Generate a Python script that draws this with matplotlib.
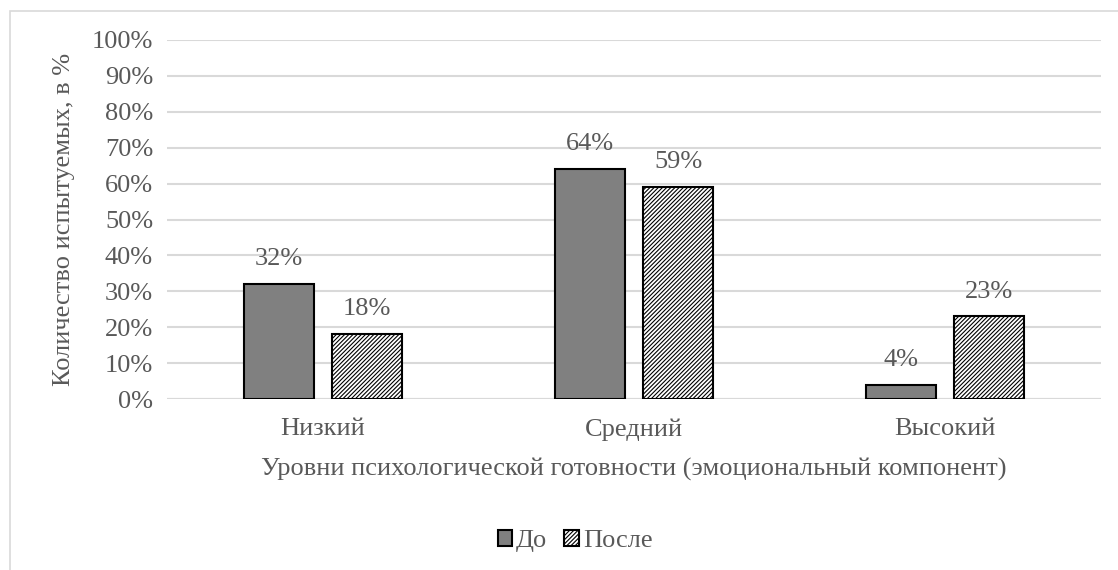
import matplotlib
matplotlib.use("Agg")
import matplotlib.pyplot as plt
import numpy as np
from matplotlib.patches import Rectangle

categories = ["Низкий", "Средний", "Высокий"]
before = [32, 64, 4]
after = [18, 59, 23]
series_names = ["До", "После"]
yticks = list(range(0, 101, 10))

plt.rcParams['font.family'] = ['Liberation Serif', 'DejaVu Serif']
plt.rcParams['hatch.linewidth'] = 0.8
TXT = '#595959'
FS = 19

W, H = 1118, 570
fig = plt.figure(figsize=(W/100, H/100), dpi=100)
ax = fig.add_axes([167/W, 1-399/H, (1101-167)/W, (399-40)/H])

fig.patches.append(Rectangle((10/W, -0.01), 1.0, 1-11/H+0.01, transform=fig.transFigure,
                             fill=False, edgecolor='#d9d9d9', linewidth=1.2))

x = np.arange(len(categories))
bw = 0.225
gap = 0.058
off = (bw + gap) / 2
b1 = ax.bar(x - off, before, bw, color='#808080', edgecolor='black', linewidth=1.5,
            label=series_names[0], zorder=3)
b2 = ax.bar(x + off, after, bw, color='white', edgecolor='black', linewidth=1.5,
            hatch='////////', label=series_names[1], zorder=3)

for bars, vals in ((b1, before), (b2, after)):
    for r, v in zip(bars, vals):
        ax.annotate(f"{v}%", (r.get_x() + r.get_width()/2, v), xytext=(0, 10),
                    textcoords='offset points', ha='center', va='bottom',
                    fontsize=FS, color=TXT)

ax.set_xlim(-0.5, 2.5)
ax.set_ylim(0, 100)
ax.set_yticks(yticks)
ax.set_yticklabels([f"{t}%" for t in yticks], fontsize=FS, color=TXT)
ax.set_xticks(x)
ax.set_xticklabels(categories, fontsize=FS, color=TXT)
ax.tick_params(length=0, pad=10)
ax.tick_params(axis='x', pad=14)
ax.grid(axis='y', color='#d9d9d9', linewidth=1.5, zorder=0)
for s in ax.spines.values():
    s.set_visible(False)
ax.axhline(0, color='#d9d9d9', linewidth=1.5, zorder=1)

ax.set_ylabel("Количество испытуемых, в %", fontsize=FS, color=TXT, labelpad=12)
ax.set_xlabel("Уровни психологической готовности (эмоциональный компонент)",
              fontsize=FS, color=TXT, labelpad=12)

leg = fig.legend(loc='center', bbox_to_anchor=(575/W, 1-541/H), ncol=2, frameon=False,
                 fontsize=FS, handlelength=0.55, handleheight=0.55, handletextpad=0.15,
                 columnspacing=0.65)
for t in leg.get_texts():
    t.set_color(TXT)

fig.savefig("out.png", dpi=100)
